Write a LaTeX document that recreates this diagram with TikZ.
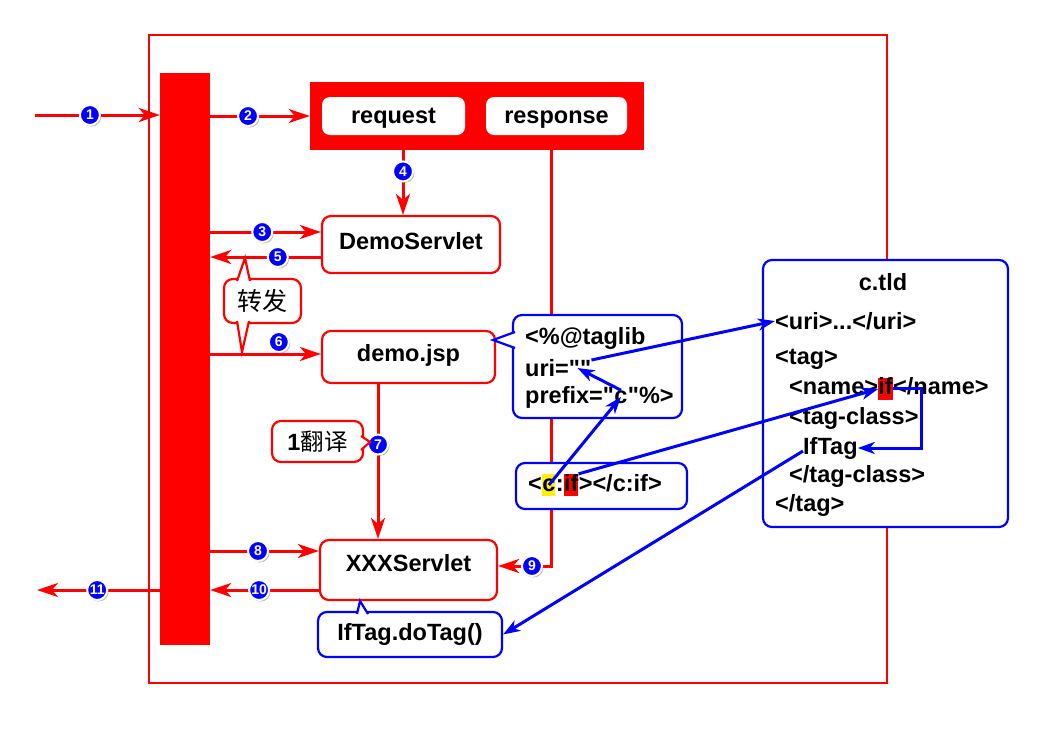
\documentclass[tikz,border=0pt]{standalone}
\usepackage{fontspec}
\setmainfont{Liberation Sans}[Ligatures=TeXOff]
\newfontfamily\cjk{Noto Sans CJK SC}
\usepackage{tikz}
\usetikzlibrary{arrows.meta,shadows,positioning}
\definecolor{flowred}{HTML}{FF0000}
\definecolor{tagblue}{HTML}{0000FF}
\newcommand{\stepdot}[3]{node[stepdot, pos=#1](#2) {#3}}
\newcommand{\calloutptr}[4]{\fill[white] (#2) -- (#3) -- (#4) -- cycle;
  \draw[#1, line width=2.2pt] (#2) -- (#3) -- (#4);}
\newcommand{\qq}{\char34\relax}
\tikzset{
  txt/.style={font=\bfseries\fontsize{23.5}{27}\selectfont, inner sep=0pt},
  hl/.style={fill=#1, text height=17pt, text depth=5pt},
  objbox/.style={txt, fill=white, rounded corners=8pt, text height=16pt, text depth=1pt},
  redbox/.style={txt, draw=flowred, line width=2.2pt, fill=white, rounded corners=9pt},
  bluebox/.style={txt, draw=tagblue, line width=2.2pt, fill=white, rounded corners=9pt},
  redarrow/.style={draw=flowred, line width=3pt, -{Stealth[length=21pt,width=14pt,inset=6pt]}},
  bluearrow/.style={draw=tagblue, line width=3pt, -{Stealth[length=17pt,width=12pt,inset=5pt]}},
  stepdot/.style={circle, fill=tagblue, draw=white, line width=2pt, minimum size=20pt,
    inner sep=0pt, text=white, font=\bfseries\fontsize{14}{14}\selectfont,
    drop shadow={shadow xshift=1.5pt, shadow yshift=-1.5pt, opacity=0.55}}
}

\begin{document}
\begin{tikzpicture}[x=1pt, y=-1pt]
\useasboundingbox (0,0) rectangle (1046,737);
\draw[flowred, line width=2.2pt] (149,35) rectangle (887,683);

% container and request / response
\node[fill=flowred, minimum width=50pt, minimum height=572pt, inner sep=0pt] (bar) at (185,359) {};
\node[fill=flowred, minimum width=334pt, minimum height=68pt, inner sep=0pt] (reqresp) at (477,116) {};
  \node[objbox, minimum width=143pt, minimum height=38pt] (request) at (393.5,116) {request};
  \node[objbox, minimum width=141pt, minimum height=38pt] (response) at (556.5,116) {response};

% servlets
\node[redbox, minimum width=178pt, minimum height=57pt, text depth=8pt] (ds) at (411,244.5) {DemoServlet};
\node[redbox, minimum width=173pt, minimum height=52pt, text depth=8pt] (jsp) at (408.5,357) {demo.jsp};
\node[redbox, minimum width=177pt, minimum height=60pt, text depth=15pt] (xxx) at (408.5,570) {XXXServlet};

\coordinate (in) at (35,115);
\coordinate (out) at (37,590);
\coordinate (r4) at (403,150);
\coordinate (r9) at (551,150);
\coordinate (ds3) at ([yshift=12.5pt]ds.west);
\coordinate (ds5) at ([yshift=-12.5pt]ds.west);
\coordinate (jsp6) at ([yshift=3pt]jsp.west);
\coordinate (j7) at ([xshift=-30.5pt]jsp.south);
\coordinate (xxx8) at ([yshift=19pt]xxx.west);
\coordinate (xxx9) at ([yshift=4pt]xxx.east);
\coordinate (xxx10) at ([yshift=-20pt]xxx.west);

% numbered steps
\draw[redarrow] (in) -- (in -| bar.west) \stepdot{0.44}{s1}{1};
\draw[redarrow] (bar.east |- reqresp.west) -- (reqresp.west) \stepdot{0.38}{s2}{2};
\draw[redarrow] (bar.east |- ds3) -- (ds3) \stepdot{0.47}{s3}{3};
\draw[redarrow] (r4) -- (r4 |- ds.north) \stepdot{0.33}{s4}{4};
\draw[redarrow] (ds5) -- (ds5 -| bar.east) \stepdot{0.39}{s5}{5};
\draw[redarrow] (bar.east |- jsp6) -- (jsp6) node[stepdot, pos=0.62, yshift=12pt](s6) {6};
\draw[redarrow] (j7) -- (j7 |- xxx.north) \stepdot{0.39}{s7}{7};
\draw[redarrow] (bar.east |- xxx8) -- (xxx8) \stepdot{0.44}{s8}{8};
\draw[redarrow] (r9) |- (xxx9) \stepdot{0.68}{s9}{9};
\draw[redarrow] (xxx10) -- (xxx10 -| bar.east) \stepdot{0.55}{s10}{10};
\draw[redarrow] (xxx10 -| bar.west) -- (out) \stepdot{0.51}{s11}{11};

% callouts
\node[redbox, minimum width=77pt, minimum height=44pt, font=\cjk\mdseries\fontsize{25}{28}\selectfont] (zf) at (262.5,301) {转发};
\coordinate (zfup) at (245,258);
\coordinate (zfdown) at (242,352);
\calloutptr{flowred}{237,281}{zfup}{250,281}
\calloutptr{flowred}{237,321}{zfdown}{249,321}

\node[redbox, minimum width=91pt, minimum height=41pt] (fy) at (317.5,441.5) {1{\cjk\mdseries 翻译}};
\coordinate (fytip) at (370,442);
\calloutptr{flowred}{361,436}{fytip}{361,450}

\node[bluebox, minimum width=169pt, minimum height=103pt] (tl) at (597.5,366.5) {};
\coordinate (tltip) at (493,340);
\calloutptr{tagblue}{515,332}{tltip}{515,348}
  \node[txt, anchor=west] (tl1) at (525,338) {<\%@taglib};
  \node[txt, anchor=west] (tl2) at (525,368) {uri=\qq\qq};
  \node[txt, anchor=west] (tl3) at (525,397) {prefix=\qq};
  \node[txt, anchor=base west] (tlc) at (tl3.base east) {c};
  \node[txt, anchor=base west] (tl4) at (tlc.base east) {\qq\%>};

\node[bluebox, minimum width=171pt, minimum height=46pt] (cif) at (601.5,486) {};
  \node[txt, anchor=west] (cif1) at (528,484) {<};
  \node[txt, hl=yellow, anchor=base west] (cifc) at (cif1.base east) {c};
  \node[txt, anchor=base west] (cif2) at (cifc.base east) {:};
  \node[txt, hl=flowred, anchor=base west] (cifi) at (cif2.base east) {if};
  \node[txt, anchor=base west] (cif3) at (cifi.base east) {></c:if>};

\node[bluebox, minimum width=184pt, minimum height=45pt] (dotag) at (410,634.5) {IfTag.doTag()};
\coordinate (dtip) at (360,601);
\calloutptr{tagblue}{357,614}{dtip}{368,614}

% tag library descriptor
\node[bluebox, minimum width=245pt, minimum height=267pt] (tld) at (885.5,393.5) {};
  \node[txt] (tldname) at (883,282) {c.tld};
  \node[txt, anchor=west] (uri) at (775,321) {<uri>...</uri>};
  \node[txt, anchor=west] (tag) at (775,359) {<tag>};
  \node[txt, anchor=west] (nm1) at (789,388) {<name>};
  \node[txt, hl=flowred, anchor=base west] (ifb) at (nm1.base east) {if};
  \node[txt, anchor=base west] (nm2) at (ifb.base east) {</name>};
  \node[txt, anchor=west] (tc1) at (789,418) {<tag-class>};
  \node[txt, anchor=west] (iftag) at (803,448) {IfTag};
  \node[txt, anchor=west] (tc2) at (789,476) {</tag-class>};
  \node[txt, anchor=west] (tagend) at (775,505) {</tag>};

% references
\draw[bluearrow] ([yshift=8pt]tl2.east) -- (uri.west);
\draw[bluearrow] (tlc.north) -- ([xshift=-14pt]tl2.east);
\draw[bluearrow] (cifc.center) -- (tlc.center);
\draw[bluearrow] (cifi.north east) -- (ifb.west);
\draw[bluearrow] (ifb.east) -- ++(28,0) |- (iftag.east);
\draw[bluearrow] ([yshift=-3pt]iftag.west) -- (dotag.east);
\end{tikzpicture}
\end{document}
